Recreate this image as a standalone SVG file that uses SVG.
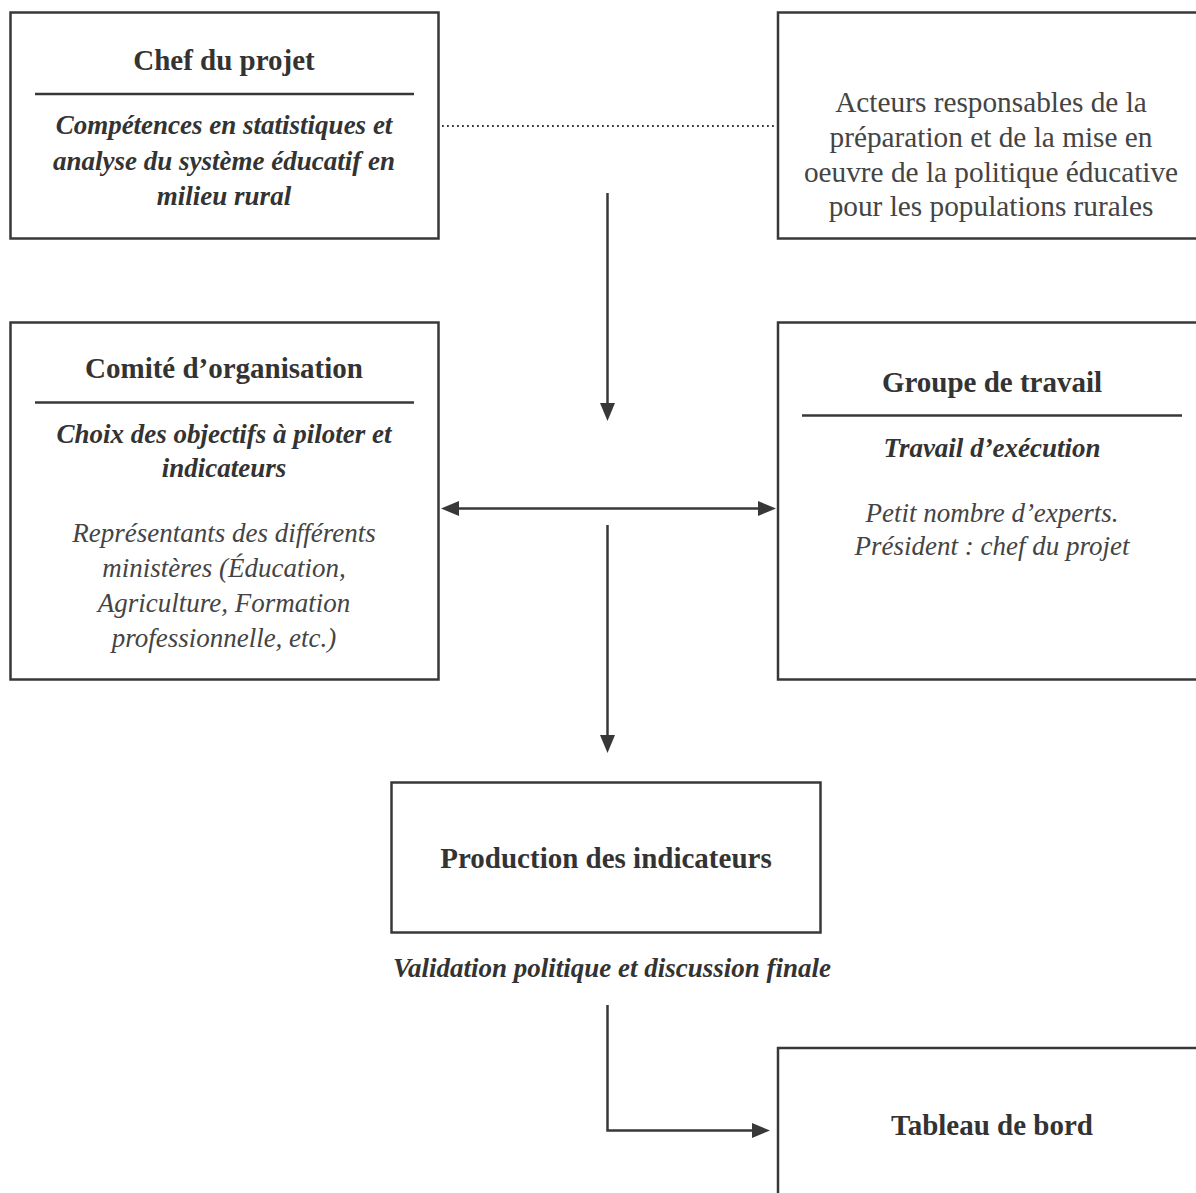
<svg xmlns="http://www.w3.org/2000/svg" width="1196" height="1193" viewBox="0 0 1196 1193">
<defs>
<style>
.box{fill:#fff;stroke:#383838;stroke-width:2.5}
.rule{stroke:#383838;stroke-width:2.5}
.t{font-family:"Liberation Serif","Times New Roman",serif;text-anchor:middle}
.b{font-weight:bold;font-size:29px;fill:#333}
.bi{font-weight:bold;font-style:italic;font-size:27px;fill:#333}
.i{font-style:italic;font-size:27px;fill:#444}
.r{font-size:29.3px;fill:#444}
.conn{stroke:#383838;stroke-width:2.5;fill:none}
.head{fill:#383838}
</style>
</defs>
<rect width="1196" height="1193" fill="#fff"/>
<g id="connectors">
<line x1="437" y1="126" x2="777" y2="126" stroke="#383838" stroke-width="1.8" stroke-dasharray="1.8 3.2"/>
<line class="conn" x1="607.5" y1="193" x2="607.5" y2="405"/>
<polygon class="head" points="600,403 615,403 607.5,421"/>
<line class="conn" x1="456" y1="508.5" x2="761" y2="508.5"/>
<polygon class="head" points="459,501 459,516 441,508.5"/>
<polygon class="head" points="758,501 758,516 776,508.5"/>
<line class="conn" x1="607.5" y1="525" x2="607.5" y2="737"/>
<polygon class="head" points="600,735 615,735 607.5,753"/>
<polyline class="conn" points="607.5,1005 607.5,1130.5 754,1130.5"/>
<polygon class="head" points="752,1123 752,1138 770,1130.5"/>
</g>
<g id="chef">
<rect class="box" x="10.5" y="12.5" width="428" height="226"/>
<text class="t b" x="224" y="70">Chef du projet</text>
<line class="rule" x1="35" y1="94" x2="414" y2="94"/>
<text class="t bi" x="224" y="134">Compétences en statistiques et</text>
<text class="t bi" x="224" y="170">analyse du système éducatif en</text>
<text class="t bi" x="224" y="205">milieu rural</text>
</g>
<g id="acteurs">
<rect class="box" x="778" y="12.5" width="430" height="226"/>
<text class="t r" x="991" y="112">Acteurs responsables de la</text>
<text class="t r" x="991" y="147">préparation et de la mise en</text>
<text class="t r" x="991" y="182">oeuvre de la politique éducative</text>
<text class="t r" x="991" y="216">pour les populations rurales</text>
</g>
<g id="comite">
<rect class="box" x="10.5" y="322.5" width="428" height="357"/>
<text class="t b" x="224" y="378">Comité d’organisation</text>
<line class="rule" x1="35" y1="402.5" x2="414" y2="402.5"/>
<text class="t bi" x="224" y="443">Choix des objectifs à piloter et</text>
<text class="t bi" x="224" y="477">indicateurs</text>
<text class="t i" x="224" y="542">Représentants des différents</text>
<text class="t i" x="224" y="577">ministères (Éducation,</text>
<text class="t i" x="224" y="612">Agriculture, Formation</text>
<text class="t i" x="224" y="647">professionnelle, etc.)</text>
</g>
<g id="groupe">
<rect class="box" x="778" y="322.5" width="430" height="357"/>
<text class="t b" x="992" y="392">Groupe de travail</text>
<line class="rule" x1="802" y1="415.5" x2="1182" y2="415.5"/>
<text class="t bi" x="992" y="457">Travail d’exécution</text>
<text class="t i" x="992" y="522">Petit nombre d’experts.</text>
<text class="t i" x="992" y="555">Président : chef du projet</text>
</g>
<g id="production">
<rect class="box" x="391.5" y="782.5" width="429" height="150"/>
<text class="t b" x="606" y="868">Production des indicateurs</text>
</g>
<g id="validation">
<text class="t bi" x="612" y="977">Validation politique et discussion finale</text>
</g>
<g id="tableau">
<rect class="box" x="778" y="1048" width="430" height="160"/>
<text class="t b" x="992" y="1135">Tableau de bord</text>
</g>
</svg>
